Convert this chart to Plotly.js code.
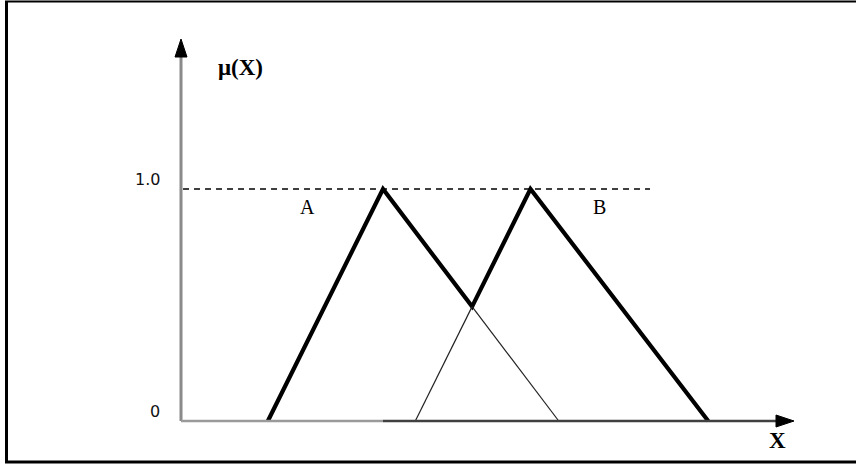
<!DOCTYPE html>
<html>
<head>
<meta charset="utf-8">
<script src="https://cdn.plot.ly/plotly-3.0.1.min.js"></script>
<style>html,body{margin:0;padding:0;background:#fff;}#chart{width:856px;height:468px;}</style>
</head>
<body>
<div id="chart"></div>
<script>
// Membership function A: [start, peak, end]
const setA = [2.15, 5.0, 9.35];
// Membership function B: [start, peak, end]
const setB = [5.8, 8.65, 13.05];
// Membership levels
const tickVals = [0, 1];
const tickText = ["0", "1.0"];
const setLabels = ["A", "B"];
const yLabel = "μ(X)";
const xLabel = "X";

// pixel mapping (layout only)
const PX = 40.4, OX = 181, PY = 232, OY = 421;
const px2x = p => (p - OX) / PX;
const px2y = p => (OY - p) / PY;

// intersection of A's falling edge and B's rising edge
const mA = -1 / (setA[2] - setA[1]);
const mB = 1 / (setB[1] - setB[0]);
const ix = (1 - mA * setA[1] + mB * setB[0]) / (mB - mA);
const iy = mB * (ix - setB[0]);

const traces = [
  {x: [setA[0], setA[1], ix, setB[1], setB[2]], y: [0, 1, iy, 1, 0],
   mode: 'lines', line: {color: '#000', width: 4.2}, hoverinfo: 'skip'},
  {x: [ix, setA[2]], y: [iy, 0], mode: 'lines', line: {color: '#222', width: 1.2}, hoverinfo: 'skip'},
  {x: [setB[0], ix], y: [0, iy], mode: 'lines', line: {color: '#222', width: 1.2}, hoverinfo: 'skip'}
];

const yTop = px2y(57), xEnd = px2x(779);
const shapes = [
  // frame
  {type: 'line', xref: 'paper', yref: 'paper', x0: 6.5/856, x1: 6.5/856, y0: 1 - 1/468, y1: 1 - 462/468, line: {color: '#000', width: 3}},
  {type: 'line', xref: 'paper', yref: 'paper', x0: 5/856, x1: 1, y0: 1 - 1.5/468, y1: 1 - 1.5/468, line: {color: '#000', width: 2}},
  {type: 'line', xref: 'paper', yref: 'paper', x0: 5/856, x1: 1, y0: 1 - 462/468, y1: 1 - 462/468, line: {color: '#000', width: 3}},
  // dashed 1.0 level
  {type: 'line', x0: 0.05, x1: px2x(650), y0: 1, y1: 1, line: {color: '#000', width: 1.3, dash: '6px,5px'}, layer: 'below'},
  // y axis
  {type: 'line', x0: 0, x1: 0, y0: 0, y1: yTop, line: {color: '#8a8a8a', width: 3}},
  {type: 'path', xsizemode: 'pixel', ysizemode: 'pixel', xanchor: 0, yanchor: yTop,
   path: 'M -6 0 L 6 0 L 0 18 Z', fillcolor: '#000', line: {color: '#000', width: 1}},
  // x axis
  {type: 'line', x0: 0, x1: setA[1], y0: 0, y1: 0, line: {color: '#9a9a9a', width: 2.5}},
  {type: 'line', x0: setA[1], x1: xEnd, y0: 0, y1: 0, line: {color: '#404040', width: 2.5}},
  {type: 'path', xsizemode: 'pixel', ysizemode: 'pixel', xanchor: xEnd, yanchor: 0,
   path: 'M -3 -6 L -3 6 L 15 0 Z', fillcolor: '#000', line: {color: '#000', width: 1}}
];

const annotations = [];
tickVals.forEach((v, i) => {
  annotations.push({x: px2x(162), y: v, text: tickText[i], showarrow: false, xanchor: 'right', yanchor: 'middle',
    yshift: 10, font: {family: 'DejaVu Sans, Liberation Sans, sans-serif', size: 16, color: '#111'}});
});
annotations.push({x: px2x(307), y: px2y(207), text: setLabels[0], showarrow: false,
  font: {family: 'Liberation Serif, Times New Roman, serif', size: 20, color: '#000'}});
annotations.push({x: px2x(599), y: px2y(207), text: setLabels[1], showarrow: false,
  font: {family: 'Liberation Serif, Times New Roman, serif', size: 20, color: '#000'}});
annotations.push({x: px2x(240), y: px2y(67), text: '<b>' + yLabel + '</b>', showarrow: false,
  font: {family: 'Liberation Serif, Times New Roman, serif', size: 23, color: '#000'}});
annotations.push({x: px2x(777), y: px2y(440), text: '<b>' + xLabel + '</b>', showarrow: false,
  font: {family: 'Liberation Serif, Times New Roman, serif', size: 23, color: '#000'}});

const layout = {
  width: 856, height: 468,
  margin: {l: 0, r: 0, t: 0, b: 0},
  paper_bgcolor: '#fff', plot_bgcolor: '#fff',
  showlegend: false,
  xaxis: {range: [px2x(0), px2x(856)], visible: false, fixedrange: true},
  yaxis: {range: [px2y(468), px2y(0)], visible: false, fixedrange: true},
  shapes: shapes,
  annotations: annotations
};

Plotly.newPlot('chart', traces, layout, {displayModeBar: false, staticPlot: true});
</script>
</body>
</html>
